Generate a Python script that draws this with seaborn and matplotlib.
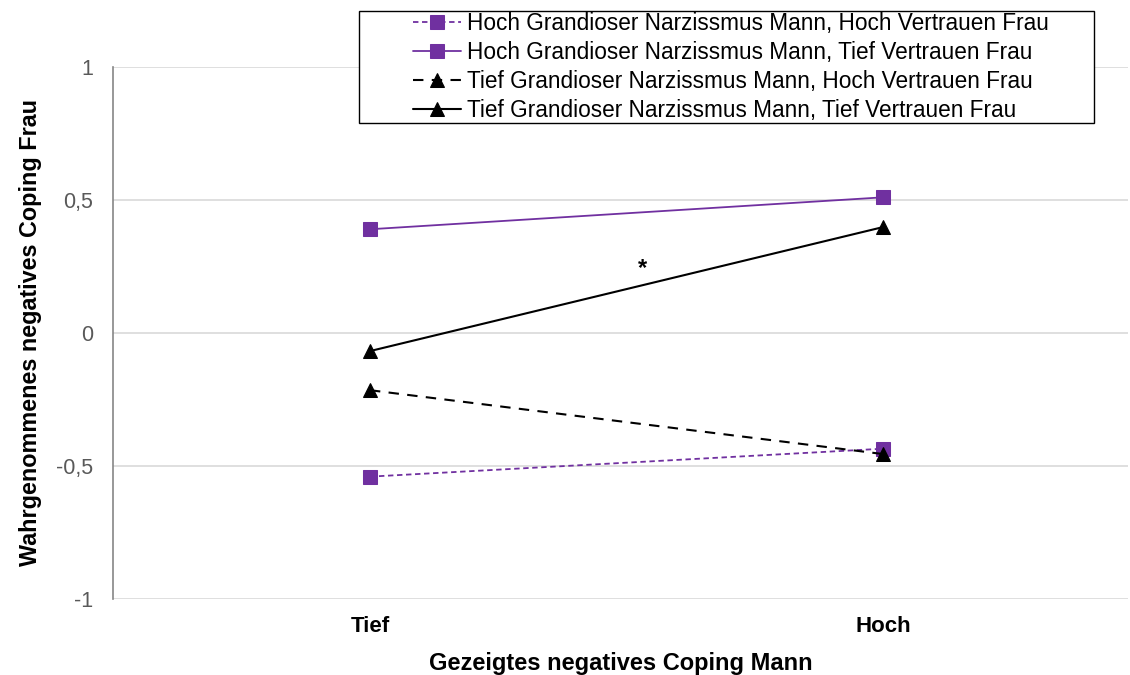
import matplotlib
matplotlib.use('Agg')
import matplotlib.pyplot as plt
from matplotlib.patches import Rectangle
import seaborn as sns
import pandas as pd

categories = ["Tief", "Hoch"]
series_names = [
    "Hoch Grandioser Narzissmus Mann, Hoch Vertrauen Frau",
    "Hoch Grandioser Narzissmus Mann, Tief Vertrauen Frau",
    "Tief Grandioser Narzissmus Mann, Hoch Vertrauen Frau",
    "Tief Grandioser Narzissmus Mann, Tief Vertrauen Frau",
]
hoch_hoch = [-0.54, -0.435]
hoch_tief = [0.39, 0.51]
tief_hoch = [-0.215, -0.455]
tief_tief = [-0.068, 0.398]
y_ticks = [-1, -0.5, 0, 0.5, 1]
y_ticklabels = ["-1", "-0,5", "0", "0,5", "1"]

purple = "#7030A0"
colors = [purple, purple, "black", "black"]
markers = ["s", "s", "^", "^"]
dashes = [(3, 2), "", (5, 4), ""]
values = [hoch_hoch, hoch_tief, tief_hoch, tief_tief]

sns.set_style("white")
plt.rcParams['font.family'] = ['Liberation Sans', 'DejaVu Sans']
plt.rcParams['text.color'] = 'black'
plt.rcParams['axes.labelcolor'] = 'black'
plt.rcParams['xtick.color'] = 'black'

W, H = 1130, 675
fig = plt.figure(figsize=(W / 100, H / 100), dpi=100)
ax = fig.add_axes([113 / W, 1 - 599 / H, (1128 - 113) / W, (599 - 67) / H])

for name, vals, c, m, d in zip(series_names, values, colors, markers, dashes):
    df = pd.DataFrame({"x": [0, 1], "y": vals})
    lw = 1.3 if c == purple else 1.5
    sns.lineplot(data=df, x="x", y="y", ax=ax, color=c, marker=m,
                 markersize=9.5, markeredgecolor=c, linewidth=lw,
                 label=name)
    if d:
        ax.lines[-1].set_dashes(d)

ax.set_xlim(-0.501, 1.478)
ax.set_ylim(-1, 1)
ax.set_yticks(y_ticks)
ax.set_yticklabels(y_ticklabels, fontsize=15.5, color="#595959")
ax.set_xticks([0, 1])
ax.set_xticklabels(categories, fontsize=16, fontweight="bold", color="black")
ax.tick_params(axis="x", length=0, pad=12)
ax.tick_params(axis="y", length=0, pad=14.5)
ax.grid(axis="y", color="#D9D9D9", linewidth=1.2)
ax.set_axisbelow(True)
for s in ["top", "right", "bottom"]:
    ax.spines[s].set_visible(False)
ax.spines["left"].set_color("#868686")
ax.spines["left"].set_linewidth(1.2)

ax.set_xlabel("Gezeigtes negatives Coping Mann", fontsize=17, fontweight="bold", labelpad=11)
ax.set_ylabel("Wahrgenommenes negatives Coping Frau", fontsize=16.8, fontweight="bold", labelpad=10)

ax.text(0.532, 0.244, "*", fontsize=17, fontweight="bold", ha="center", va="center")

# legend box drawn separately, legend itself without frame
box = Rectangle((359 / W, 1 - 123 / H), (1094 - 359) / W, (123 - 11) / H,
                transform=fig.transFigure, facecolor="white",
                edgecolor="black", linewidth=1.0, zorder=5, clip_on=False)
ax.add_artist(box)
leg = ax.legend(loc="upper left", bbox_to_anchor=(410 / W, 1 - 9 / H),
                bbox_transform=fig.transFigure, fontsize=16.3, frameon=False,
                handlelength=2.1, handletextpad=0.25,
                borderpad=0.15, labelspacing=0.26, borderaxespad=0)
leg.set_zorder(6)

fig.savefig("out.png", dpi=100)
